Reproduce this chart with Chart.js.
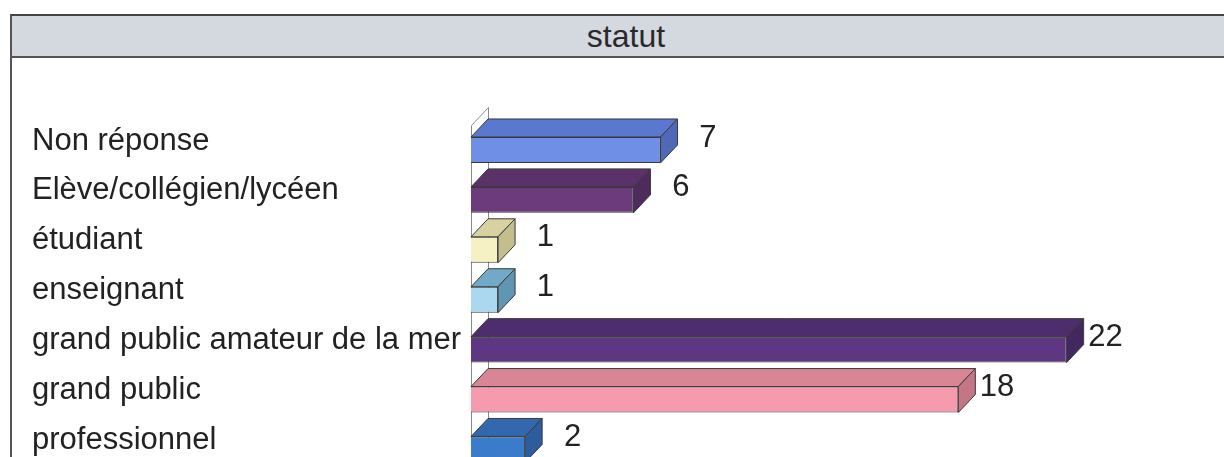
<!DOCTYPE html>
<html>
<head>
<meta charset="utf-8">
<script src="https://cdn.jsdelivr.net/npm/chart.js@4"></script>
<style>
  html, body { margin: 0; padding: 0; background: #fff; }
  #wrap { position: relative; width: 1224px; height: 457px; overflow: hidden; }
  #frame { position: absolute; left: 10px; top: 14px; width: 1230px; height: 460px; border-left: 2px solid #555; }
  #head {
    position: absolute; left: 10px; top: 14px; width: 1230px; height: 40px;
    background: #d4d8df; border-top: 2px solid #444; border-bottom: 2px solid #555; border-left: 2px solid #555;
    font: 32px "Liberation Sans", Arial, sans-serif; color: #2a2a2a; line-height: 40px;
  }
  #head span { position: absolute; left: 564px; width: 100px; text-align: center; }
  canvas { position: absolute; left: 0; top: 0; }
</style>
</head>
<body>
<div id="wrap">
  <div id="frame"></div>
  <div id="head"><span>statut</span></div>
  <canvas id="statutChart" width="1224" height="496"></canvas>
</div>
<script>
const categories = ['Non réponse', 'Elève/collégien/lycéen', 'étudiant', 'enseignant',
  'grand public amateur de la mer', 'grand public', 'professionnel'];
const counts = [7, 6, 1, 1, 22, 18, 2];
const frontColors = ['#6f8fe6', '#6b3b7b', '#f6f1c4', '#a9d8f0', '#5d3781', '#f69bad', '#3b7bcb'];
const topColors = ['#5a78cf', '#5b3169', '#d8d2a2', '#72a9c9', '#4d2d6d', '#d98595', '#3368ae'];
const sideColors = ['#4f69b8', '#4f2a5c', '#c4bd8e', '#6095b3', '#43275f', '#c47684', '#2d5d9c'];

const DX = 17, DY = 18;

// faces du relief + etiquettes de valeur
const bars3d = {
  id: 'bars3d',
  beforeDatasetsDraw(chart) {
    const { ctx, chartArea } = chart;
    const l = chartArea.left, t = chartArea.top, b = chartArea.bottom + 20;
    ctx.save();
    ctx.strokeStyle = '#8a8a8a';
    ctx.lineWidth = 1;
    ctx.beginPath();
    ctx.moveTo(l + 0.5, b);
    ctx.lineTo(l + 0.5, t + 0.5);
    ctx.lineTo(l + DX + 0.5, t - DY + 0.5);
    ctx.lineTo(l + DX + 0.5, b);
    ctx.stroke();
    ctx.restore();
  },
  afterDatasetsDraw(chart) {
    const { ctx } = chart;
    const meta = chart.getDatasetMeta(0);
    ctx.save();
    ctx.strokeStyle = '#3a3a3a';
    ctx.lineWidth = 1;
    meta.data.forEach((bar, i) => {
      const p = bar.getProps(['x', 'y', 'base', 'height'], true);
      const y0 = p.y - p.height / 2, y1 = p.y + p.height / 2;
      ctx.fillStyle = topColors[i];
      ctx.beginPath();
      ctx.moveTo(p.base, y0);
      ctx.lineTo(p.x, y0);
      ctx.lineTo(p.x + DX, y0 - DY);
      ctx.lineTo(p.base + DX, y0 - DY);
      ctx.closePath();
      ctx.fill();
      ctx.stroke();
      ctx.fillStyle = sideColors[i];
      ctx.beginPath();
      ctx.moveTo(p.x, y0);
      ctx.lineTo(p.x + DX, y0 - DY);
      ctx.lineTo(p.x + DX, y1 - DY);
      ctx.lineTo(p.x, y1);
      ctx.closePath();
      ctx.fill();
      ctx.stroke();
      ctx.fillStyle = '#222';
      ctx.font = '31px "Liberation Sans", Arial, sans-serif';
      ctx.textAlign = 'right';
      ctx.textBaseline = 'middle';
      ctx.fillText(String(counts[i]), p.x + 56, p.y - 12);
    });
    ctx.restore();
  }
};

const ctx = document.getElementById('statutChart').getContext('2d');
new Chart(ctx, {
  type: 'bar',
  data: {
    labels: categories,
    datasets: [{
      data: counts,
      backgroundColor: frontColors,
      borderColor: '#3a3a3a',
      borderWidth: 1,
      barPercentage: 0.52,
      categoryPercentage: 1
    }]
  },
  options: {
    indexAxis: 'y',
    responsive: false,
    animation: false,
    layout: { padding: { left: 32, top: 125, right: 22, bottom: 9 } },
    scales: {
      x: { display: false, min: 0, max: 27 },
      y: {
        grid: { display: false },
        border: { display: false },
        afterFit(scale) { scale.width = 439; },
        ticks: {
          crossAlign: 'far',
          labelOffset: -9,
          color: '#222',
          font: { family: '"Liberation Sans", Arial, sans-serif', size: 31 }
        }
      }
    },
    plugins: {
      legend: { display: false },
      tooltip: { enabled: false }
    }
  },
  plugins: [bars3d]
});
</script>
</body>
</html>
